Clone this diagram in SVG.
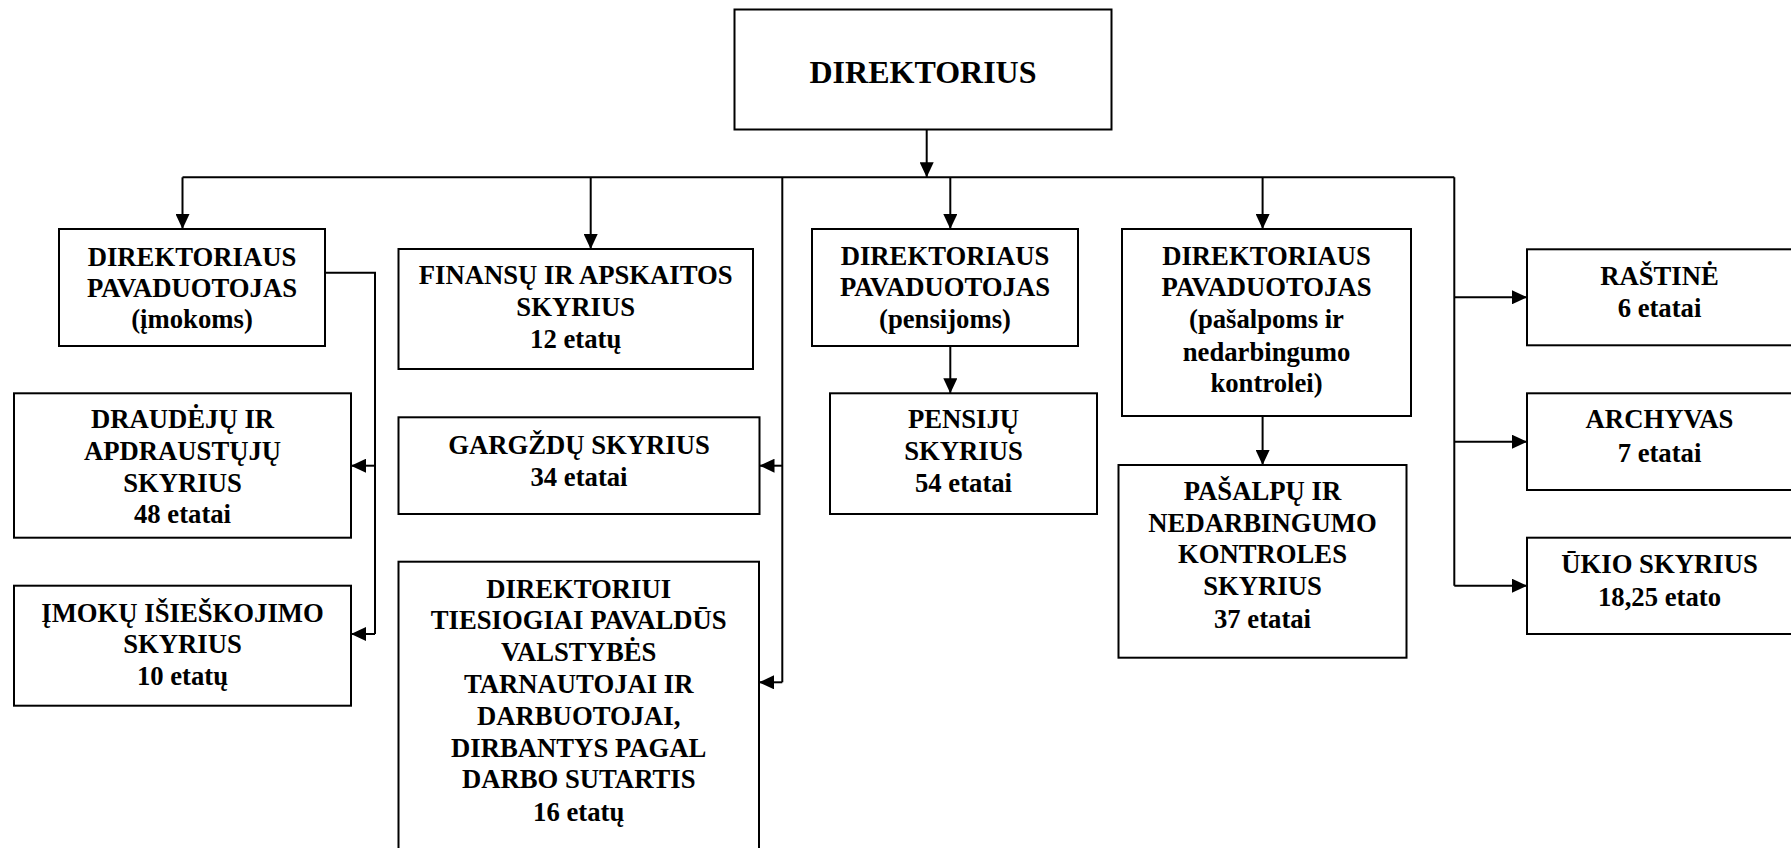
<svg xmlns="http://www.w3.org/2000/svg" width="1791" height="848" viewBox="0 0 1791 848" font-family="Liberation Serif, serif" font-weight="bold">
<style>
.box{fill:#fff;stroke:#000;stroke-width:2}
.t{font-size:26.7px;text-anchor:middle;fill:#000}
.big{font-size:32px}
.c{fill:none;stroke:#000;stroke-width:2}
</style>
<defs>
<marker id="ah" markerUnits="userSpaceOnUse" markerWidth="15" markerHeight="14" refX="15" refY="7" orient="auto">
<path d="M0,0 L15,7 L0,14 z" fill="#000"/>
</marker>
</defs>
<rect width="1791" height="848" fill="#fff"/>
<g id="connectors">
<path class="c" d="M926.7,129.3 V177.3" marker-end="url(#ah)"/>
<path class="c" d="M182.5,177.3 H1454.3"/>
<path class="c" d="M182.5,177.3 V229" marker-end="url(#ah)"/>
<path class="c" d="M590.7,177.3 V249" marker-end="url(#ah)"/>
<path class="c" d="M950.3,177.3 V229" marker-end="url(#ah)"/>
<path class="c" d="M1262.6,177.3 V229" marker-end="url(#ah)"/>
<path class="c" d="M782.3,177.3 V682.3"/>
<path class="c" d="M782.3,465.7 H759.5" marker-end="url(#ah)"/>
<path class="c" d="M782.3,682.3 H759" marker-end="url(#ah)"/>
<path class="c" d="M1454.3,177.3 V585.7"/>
<path class="c" d="M1454.3,297.3 H1527" marker-end="url(#ah)"/>
<path class="c" d="M1454.3,441.7 H1527" marker-end="url(#ah)"/>
<path class="c" d="M1454.3,585.7 H1527" marker-end="url(#ah)"/>
<path class="c" d="M325,272.7 H375 V634"/>
<path class="c" d="M375,465.7 H351" marker-end="url(#ah)"/>
<path class="c" d="M375,634 H351" marker-end="url(#ah)"/>
<path class="c" d="M950.3,345.7 V393.3" marker-end="url(#ah)"/>
<path class="c" d="M1262.6,415.7 V465" marker-end="url(#ah)"/>
</g>
<g id="direktorius">
<rect class="box" x="734.5" y="9.5" width="377" height="120"/>
<text class="t big" x="923" y="83">DIREKTORIUS</text>
</g>
<g id="pav-imokoms">
<rect class="box" x="59" y="229" width="266" height="117"/>
<text class="t" x="192" y="266">DIREKTORIAUS</text>
<text class="t" x="192" y="297">PAVADUOTOJAS</text>
<text class="t" x="192" y="328">(įmokoms)</text>
</g>
<g id="finansu">
<rect class="box" x="398.5" y="249" width="354.5" height="120"/>
<text class="t" x="575.7" y="284">FINANSŲ IR APSKAITOS</text>
<text class="t" x="575.7" y="316">SKYRIUS</text>
<text class="t" x="575.7" y="348">12 etatų</text>
</g>
<g id="pav-pensijoms">
<rect class="box" x="812" y="229" width="266" height="117"/>
<text class="t" x="945" y="265">DIREKTORIAUS</text>
<text class="t" x="945" y="296">PAVADUOTOJAS</text>
<text class="t" x="945" y="328">(pensijoms)</text>
</g>
<g id="pav-pasalpoms">
<rect class="box" x="1122" y="229" width="289" height="187"/>
<text class="t" x="1266.5" y="265">DIREKTORIAUS</text>
<text class="t" x="1266.5" y="296">PAVADUOTOJAS</text>
<text class="t" x="1266.5" y="328">(pašalpoms ir</text>
<text class="t" x="1266.5" y="360.5">nedarbingumo</text>
<text class="t" x="1266.5" y="392">kontrolei)</text>
</g>
<g id="rastine">
<rect class="box" x="1527" y="249.3" width="270" height="96"/>
<text class="t" x="1659.5" y="285">RAŠTINĖ</text>
<text class="t" x="1659.5" y="316.7">6 etatai</text>
</g>
<g id="archyvas">
<rect class="box" x="1527" y="393.3" width="270" height="96.7"/>
<text class="t" x="1659.5" y="428.3">ARCHYVAS</text>
<text class="t" x="1659.5" y="461.7">7 etatai</text>
</g>
<g id="ukio">
<rect class="box" x="1527" y="537.7" width="270" height="96.3"/>
<text class="t" x="1659.5" y="573.3">ŪKIO SKYRIUS</text>
<text class="t" x="1659.5" y="605.7">18,25 etato</text>
</g>
<g id="draudeju">
<rect class="box" x="14" y="393.3" width="337" height="144.4"/>
<text class="t" x="182.5" y="428.3">DRAUDĖJŲ IR</text>
<text class="t" x="182.5" y="460">APDRAUSTŲJŲ</text>
<text class="t" x="182.5" y="491.7">SKYRIUS</text>
<text class="t" x="182.5" y="523.3">48 etatai</text>
</g>
<g id="imoku">
<rect class="box" x="14" y="585.7" width="337" height="120"/>
<text class="t" x="182.5" y="621.7">ĮMOKŲ IŠIEŠKOJIMO</text>
<text class="t" x="182.5" y="653.3">SKYRIUS</text>
<text class="t" x="182.5" y="685">10 etatų</text>
</g>
<g id="gargzdu">
<rect class="box" x="398.5" y="417.3" width="361" height="96.7"/>
<text class="t" x="579" y="454">GARGŽDŲ SKYRIUS</text>
<text class="t" x="579" y="486">34 etatai</text>
</g>
<g id="direktoriui">
<rect class="box" x="398.5" y="561.7" width="360.5" height="300"/>
<text class="t" x="578.7" y="597.7">DIREKTORIUI</text>
<text class="t" x="578.7" y="629.3">TIESIOGIAI PAVALDŪS</text>
<text class="t" x="578.7" y="661">VALSTYBĖS</text>
<text class="t" x="578.7" y="693.3">TARNAUTOJAI IR</text>
<text class="t" x="578.7" y="725">DARBUOTOJAI,</text>
<text class="t" x="578.7" y="756.7">DIRBANTYS PAGAL</text>
<text class="t" x="578.7" y="788.3">DARBO SUTARTIS</text>
<text class="t" x="578.7" y="820.7">16 etatų</text>
</g>
<g id="pensiju">
<rect class="box" x="830" y="393.3" width="267" height="120.7"/>
<text class="t" x="963.5" y="428.3">PENSIJŲ</text>
<text class="t" x="963.5" y="460">SKYRIUS</text>
<text class="t" x="963.5" y="491.7">54 etatai</text>
</g>
<g id="pasalpu">
<rect class="box" x="1118.5" y="465" width="288" height="192.7"/>
<text class="t" x="1262.5" y="500">PAŠALPŲ IR</text>
<text class="t" x="1262.5" y="531.7">NEDARBINGUMO</text>
<text class="t" x="1262.5" y="563.3">KONTROLES</text>
<text class="t" x="1262.5" y="595">SKYRIUS</text>
<text class="t" x="1262.5" y="628.3">37 etatai</text>
</g>
</svg>
